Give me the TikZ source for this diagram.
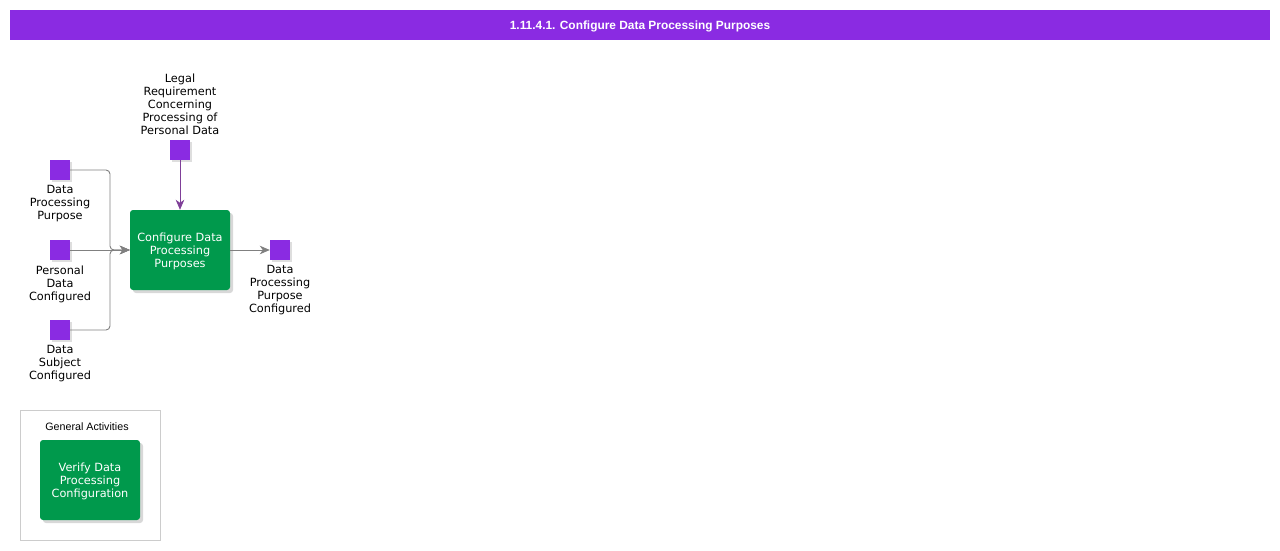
\documentclass[tikz,border=0pt]{standalone}
\usepackage{fontspec}
\setmainfont{DejaVu Sans}
\newfontfamily\arialfont{Liberation Sans}
\usetikzlibrary{arrows.meta,shadows}
\definecolor{hdrpurple}{HTML}{8A2BE2}
\definecolor{sqpurple}{HTML}{8A2BE2}
\definecolor{actgreen}{HTML}{00994C}
\definecolor{linegray}{HTML}{808080}
\definecolor{legalline}{HTML}{7F3F98}
\definecolor{framegray}{HTML}{CCCCCC}
\tikzset{
  dataobj/.style={fill=sqpurple, minimum size=20pt, inner sep=0pt, draw=none,
    drop shadow={shadow xshift=2pt, shadow yshift=-2pt, fill=black!25}},
  actbox/.style={fill=actgreen, minimum width=100pt, minimum height=80pt, inner sep=0pt,
    rounded corners=3pt, text=white, align=center,
    font=\fontsize{11.3}{13}\selectfont,
    drop shadow={shadow xshift=3pt, shadow yshift=-3pt, fill=black!30}},
  acttext/.style={text=white, align=center, inner sep=0pt, font=\fontsize{11.3}{13}\selectfont},
  lbl/.style={align=center, inner sep=0pt, anchor=north, font=\fontsize{11.3}{13}\selectfont},
  flow/.style={draw=linegray, line width=0.9pt, rounded corners=4pt,
    -{Stealth[length=10pt,width=8.5pt,inset=3pt]}},
  legalflow/.style={draw=legalline, line width=0.9pt,
    -{Stealth[length=10pt,width=8.5pt,inset=3pt]}},
}
\begin{document}
\begin{tikzpicture}[x=1pt,y=-1pt]
\useasboundingbox (0,0) rectangle (1280,550);
\fill[white] (0,0) rectangle (1280,550);
% header
\node[fill=hdrpurple, minimum width=1260pt, minimum height=30pt, inner sep=0pt] (hdr) at (640,25) {};
\node[text=white, inner sep=0pt, font=\arialfont\bfseries\fontsize{11.9}{14}\selectfont] (hdrt) at (640,26)
  {1.11.4.1. Configure Data Processing Purposes};
% data objects
\node[dataobj] (dpp) at (60,170) {};
\node[dataobj] (pdc) at (60,250) {};
\node[dataobj] (dsc) at (60,330) {};
\node[dataobj] (legal) at (180,150) {};
\node[dataobj] (out) at (280,250) {};
% labels
\node[lbl] (dppl) at (60,185.5) {Data\\Processing\\Purpose};
\node[lbl] (pdcl) at (60,265.5) {Personal\\Data\\Configured};
\node[lbl] (dscl) at (60,345.5) {Data\\Subject\\Configured};
\node[lbl, anchor=south] (legall) at (180,134.5) {Legal\\Requirement\\Concerning\\Processing of\\Personal Data};
\node[lbl] (outl) at (280,265.5) {Data\\Processing\\Purpose\\Configured};
% main activity
\node[actbox] (main) at (180,250) {};
\node[acttext] (maint) at (180,251) {Configure Data\\Processing\\Purposes};
% connectors
\coordinate (j) at (110,250);
\draw[flow] (dpp.east) -| (j) -- (main.west);
\draw[flow] (dsc.east) -| (j) -- (main.west);
\draw[flow] (pdc.east) -- (main.west);
\draw[legalflow] (legal.south) -- (main.north);
\draw[flow] (main.east) -- (out.west);
% general activities
\node[draw=framegray, line width=0.8pt, minimum width=140pt, minimum height=130pt, inner sep=0pt] (ga) at (90,475) {};
\node[font=\arialfont\fontsize{10.7}{12}\selectfont, inner sep=0pt] (gal) at (87,426.5) {General Activities};
\node[actbox] (verify) at (90,480) {};
\node[acttext] (verifyt) at (90,481) {Verify Data\\Processing\\Configuration};
\end{tikzpicture}
\end{document}
